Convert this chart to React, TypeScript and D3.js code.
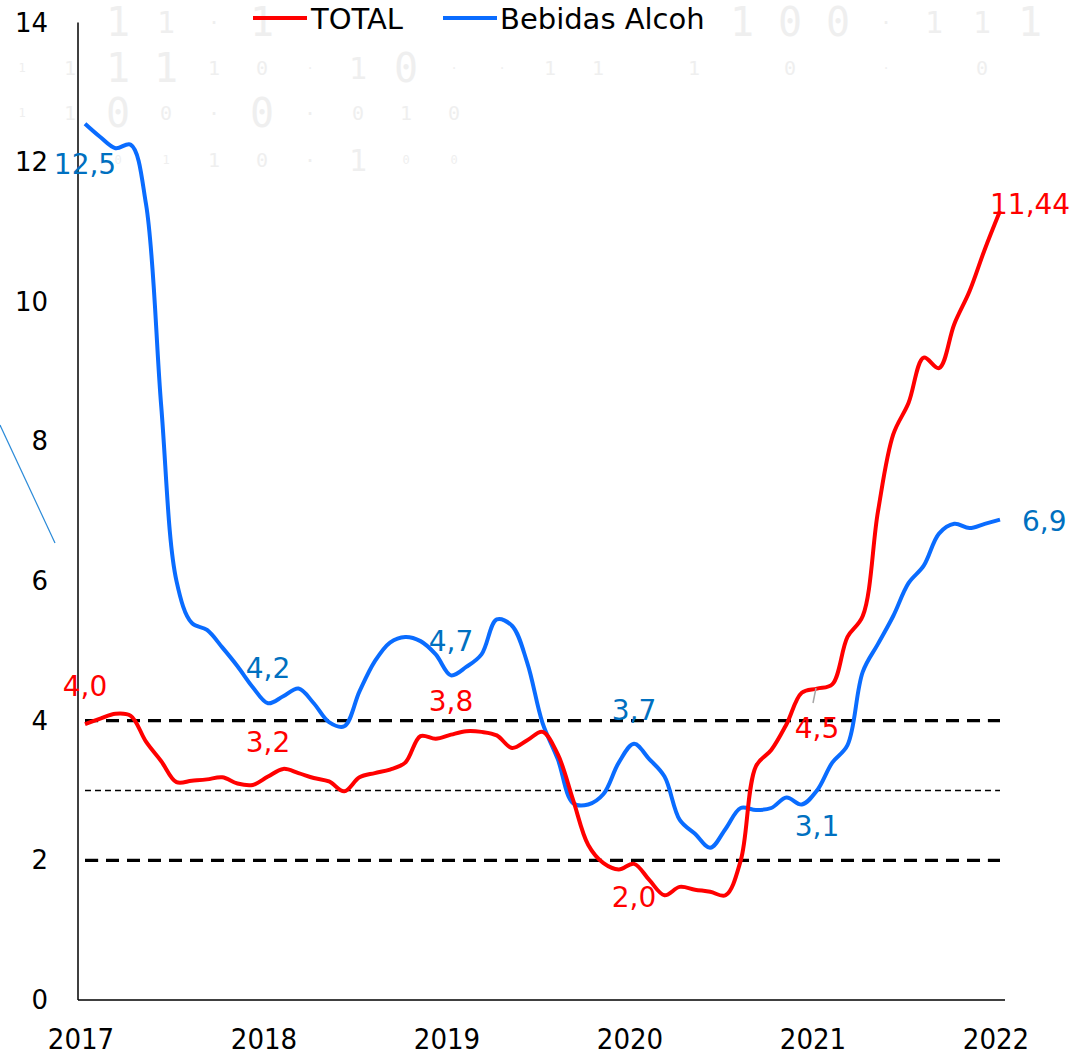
import React from 'react';
import * as d3 from 'd3';

// monthly, Jan 2017 .. Jan 2022
const years = ['2017', '2018', '2019', '2020', '2021', '2022'];

const total = [
  3.95, 4.03, 4.1, 4.07, 3.7, 3.42, 3.12, 3.14, 3.16, 3.19, 3.1, 3.08,
  3.2, 3.31, 3.25, 3.18, 3.13, 2.99, 3.19, 3.25, 3.3, 3.4, 3.78, 3.74,
  3.8, 3.85, 3.84, 3.79, 3.61, 3.72, 3.84, 3.52, 2.87, 2.22, 1.96, 1.87,
  1.95, 1.72, 1.5, 1.62, 1.58, 1.55, 1.5, 2.0, 3.35, 3.58, 3.95, 4.4,
  4.46, 4.52, 5.2, 5.5, 7.0, 8.1, 8.55, 9.2, 9.05, 9.68, 10.15, 10.75,
  11.3,
];

const bebidas = [
  12.55, 12.36, 12.2, 12.25, 11.4, 8.5, 6.0, 5.4, 5.3, 5.05, 4.78, 4.48,
  4.25, 4.35, 4.46, 4.25, 3.98, 3.92, 4.42, 4.85, 5.12, 5.2, 5.14, 4.95,
  4.65, 4.77, 4.95, 5.45, 5.36, 4.83, 3.97, 3.45, 2.82, 2.8, 2.95, 3.4,
  3.67, 3.45, 3.2, 2.58, 2.38, 2.18, 2.45, 2.75, 2.72, 2.75, 2.9, 2.8,
  3.0, 3.4, 3.65, 4.7, 5.1, 5.5, 5.97, 6.22, 6.68, 6.82, 6.76, 6.82,
  6.88,
];

// target band (upper, centre, lower)
const targets = [4, 3, 2];

const totalLabelIdx = [0, 12, 24, 36, 48, 60];
const totalLabelText = ['4,0', '3,2', '3,8', '2,0', '4,5', '11,44'];
const bebidasLabelIdx = [0, 12, 24, 36, 48, 60];
const bebidasLabelText = ['12,5', '4,2', '4,7', '3,7', '3,1', '6,9'];

// faint binary watermark in the background
const wmRows = [
  ['', '', '1L', '1M', '.S', '1L', '', '', '', '', '', '', '', '', '', '1L', '0L', '0L', '.S', '1M', '1M', '1L'],
  ['1T', '1S', '1L', '1L', '1S', '0S', '.T', '1M', '0L', '.T', '.T', '1S', '1S', '', '1S', '', '0S', '', '.T', '', '0S', ''],
  ['1T', '1S', '0L', '0S', '.S', '0L', '.S', '0S', '1S', '0S'],
  ['', '', '0T', '1T', '1S', '0S', '.S', '1M', '0T', '0T'],
];
const wmRowY = [22, 68, 113, 160];
const wmSize: Record<string, number> = { L: 40, M: 30, S: 20, T: 12 };

const W = 1074;
const H = 1055;
const font = '"DejaVu Sans", Verdana, sans-serif';
const condensed = '"DejaVu Sans Condensed", "DejaVu Sans", sans-serif';
const RED = '#ff0000';
const BLUE = '#0a6cff';
const BLUE_TXT = '#0070c0';

export default function App() {
  const x = d3.scaleLinear().domain([0, 60]).range([85, 1000]);
  const y = d3.scaleLinear().domain([0, 14]).range([1000, 22.5]);

  const line = d3
    .line<number>()
    .x((_, i) => x(i))
    .y((d) => y(d))
    .curve(d3.curveCatmullRom.alpha(0.5));

  const yTicks = d3.range(0, 15, 2);

  // label placement: dy relative to the point
  const totalDy = [-28, -25, -24, 43, 0, 0];
  const bebidasDy = [50, -25, -24, -24, 45, 0];

  return (
    <svg
      width={W}
      height={H}
      style={{ position: 'absolute', left: 0, top: 0, background: '#fff' }}
    >
      {/* watermark */}
      <g fill="#efefef" fontFamily='"DejaVu Sans Mono", monospace' textAnchor="middle">
        {wmRows.map((row, r) =>
          row.map((c, k) =>
            c ? (
              <text
                key={`${r}-${k}`}
                x={22 + k * 48}
                y={wmRowY[r]}
                fontSize={wmSize[c[1]]}
                dominantBaseline="central"
              >
                {c[0] === '.' ? '·' : c[0]}
              </text>
            ) : null,
          ),
        )}
      </g>

      {/* stray line */}
      <line x1={0} y1={425} x2={55} y2={543} stroke="#2a8ad8" strokeWidth={1.2} />

      {/* axes */}
      <line x1={78} y1={y(14)} x2={78} y2={y(0)} stroke="#000" strokeWidth={1.5} />
      <line x1={78} y1={y(0)} x2={1005} y2={y(0)} stroke="#000" strokeWidth={1.5} />

      {yTicks.map((t) => (
        <text
          key={t}
          x={48}
          y={y(t)}
          textAnchor="end"
          dominantBaseline="central"
          fontFamily={font}
          fontSize={26}
          fill="#000"
        >
          {t}
        </text>
      ))}

      {years.map((yr, k) => (
        <text
          key={yr}
          x={x(k * 12) - 4}
          y={1049}
          textAnchor="middle"
          fontFamily={condensed}
          fontSize={29}
          fill="#000"
        >
          {yr}
        </text>
      ))}

      {/* target lines */}
      {targets.map((t, k) => (
        <path
          key={t}
          d={line(total.map(() => t)) || ''}
          fill="none"
          stroke="#000"
          strokeWidth={k === 1 ? 1.6 : 3.2}
          strokeDasharray={k === 1 ? '6 4' : '13 8'}
        />
      ))}

      {/* series */}
      <path d={line(bebidas) || ''} fill="none" stroke={BLUE} strokeWidth={4} strokeLinejoin="round" />
      <path d={line(total) || ''} fill="none" stroke={RED} strokeWidth={4} strokeLinejoin="round" />

      {/* leader for 4,5 */}
      <line x1={816} y1={688} x2={813} y2={703} stroke="#a6a6a6" strokeWidth={1.5} />

      {/* data labels */}
      <g fontFamily={font} fontSize={28}>
        {totalLabelIdx.map((i, k) => {
          const last = k === totalLabelIdx.length - 1;
          const special = k === 4;
          return (
            <text
              key={`t${k}`}
              x={last ? x(i) - 10 : x(i)}
              y={last ? y(11.44) + 13 : special ? 738 : y(total[i]) + totalDy[k]}
              textAnchor={last ? 'start' : 'middle'}
              fill={RED}
            >
              {totalLabelText[k]}
            </text>
          );
        })}
        {bebidasLabelIdx.map((i, k) => {
          const last = k === bebidasLabelIdx.length - 1;
          return (
            <text
              key={`b${k}`}
              x={last ? x(i) + 22 : x(i)}
              y={last ? y(bebidas[i]) + 11 : y(bebidas[i]) + bebidasDy[k]}
              textAnchor={last ? 'start' : 'middle'}
              fill={BLUE_TXT}
            >
              {bebidasLabelText[k]}
            </text>
          );
        })}
      </g>

      {/* legend */}
      <g fontFamily={font} fontSize={29} fill="#000">
        <line x1={253} y1={18} x2={307} y2={18} stroke={RED} strokeWidth={4} />
        <text x={311} y={29}>TOTAL</text>
        <line x1={443} y1={18} x2={497} y2={18} stroke={BLUE} strokeWidth={4} />
        <text x={500} y={29}>Bebidas Alcoh</text>
      </g>
    </svg>
  );
}
